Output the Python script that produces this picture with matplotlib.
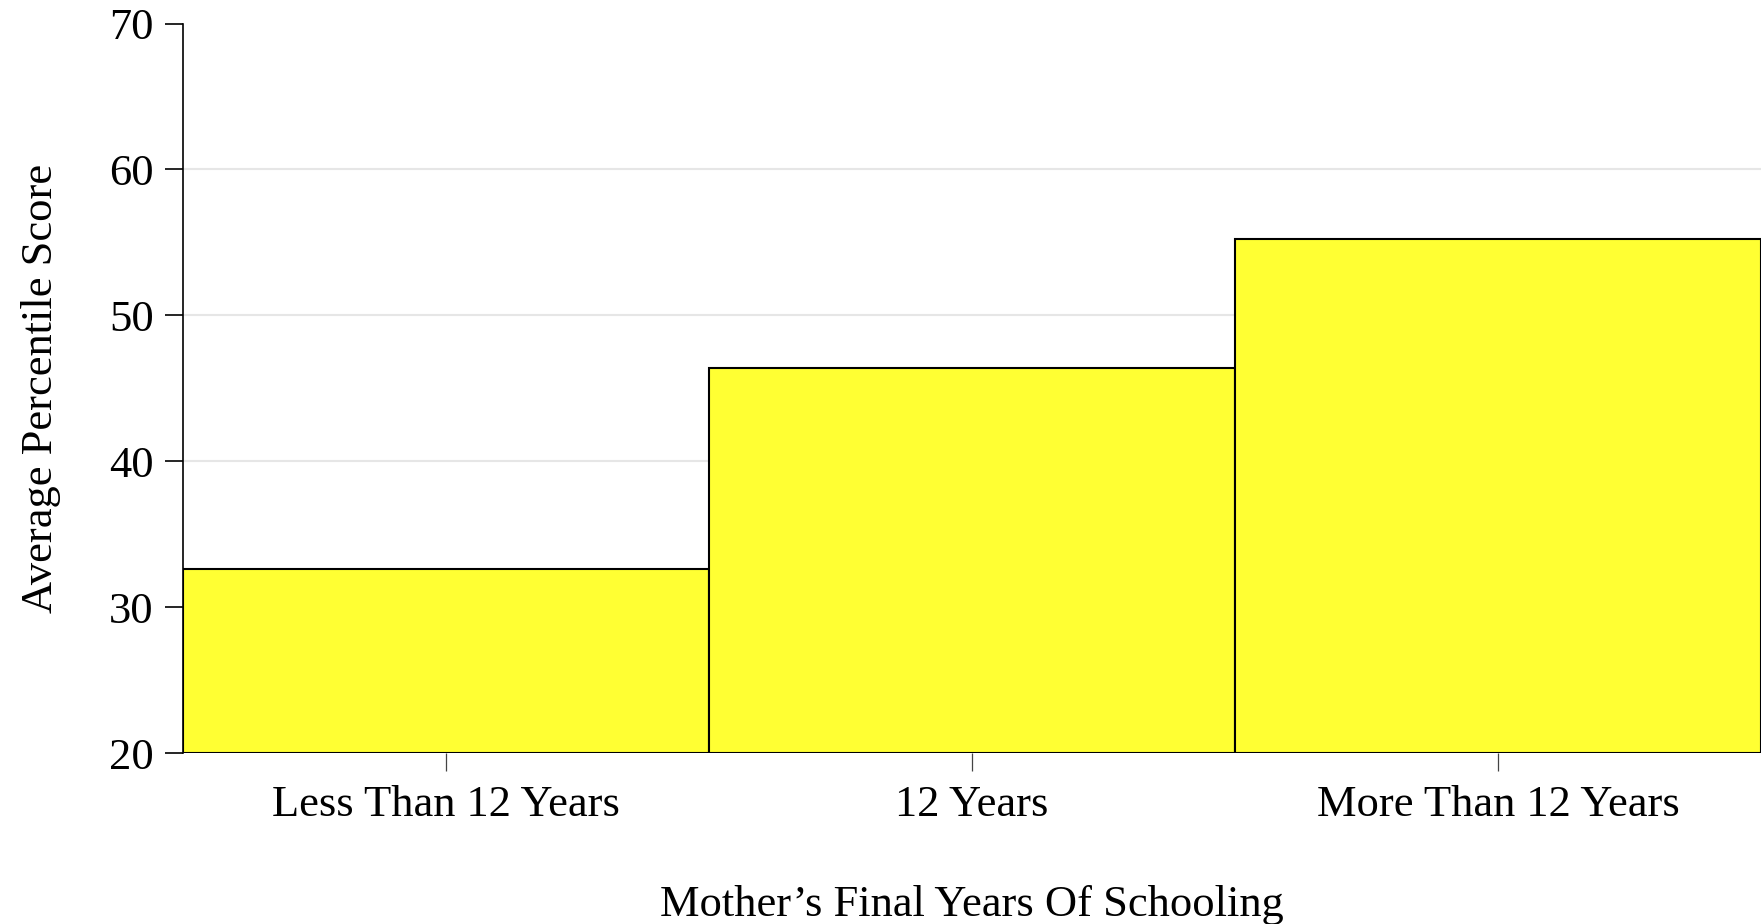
import numpy as np
import matplotlib
matplotlib.use("Agg")
import matplotlib.pyplot as plt

# values
categories = ["Less Than 12 Years", "12 Years", "More Than 12 Years"]
scores = [32.6, 46.4, 55.2]
yticks = [20, 30, 40, 50, 60, 70]

plt.rcParams['font.family'] = ['Liberation Serif', 'DejaVu Serif']

fig = plt.figure(figsize=(17.65, 9.24), dpi=100)
ax = fig.add_axes([0.1037, 0.185, 0.894, 0.7895])

x = np.arange(len(categories))
ax.bar(x, np.array(scores) - 20, bottom=20, width=1.0,
       color="#ffff33", edgecolor="black", linewidth=1.5, zorder=3)

ax.set_xlim(-0.5, len(categories) - 0.5)
ax.set_ylim(20, 70)
ax.set_yticks(yticks)
ax.set_xticks(x)
ax.set_xticklabels(categories)

# light grid, but not along the top
for yv in yticks[1:-1]:
    ax.axhline(yv, color="#e6e6e6", linewidth=1.5, zorder=1)

for s in ["top", "right", "bottom"]:
    ax.spines[s].set_visible(False)
ax.spines["left"].set_linewidth(1.2)

ax.tick_params(axis="both", labelsize=32, length=13, width=1.2, color="black")
ax.tick_params(axis="x", pad=10, width=0.9, color="#444444")
ax.tick_params(axis="y", pad=8)

ax.set_xlabel("Mother\u2019s Final Years Of Schooling", fontsize=32, labelpad=43)
ax.set_ylabel("Average Percentile Score", fontsize=32, labelpad=35)

fig.savefig("out.png", dpi=100)
